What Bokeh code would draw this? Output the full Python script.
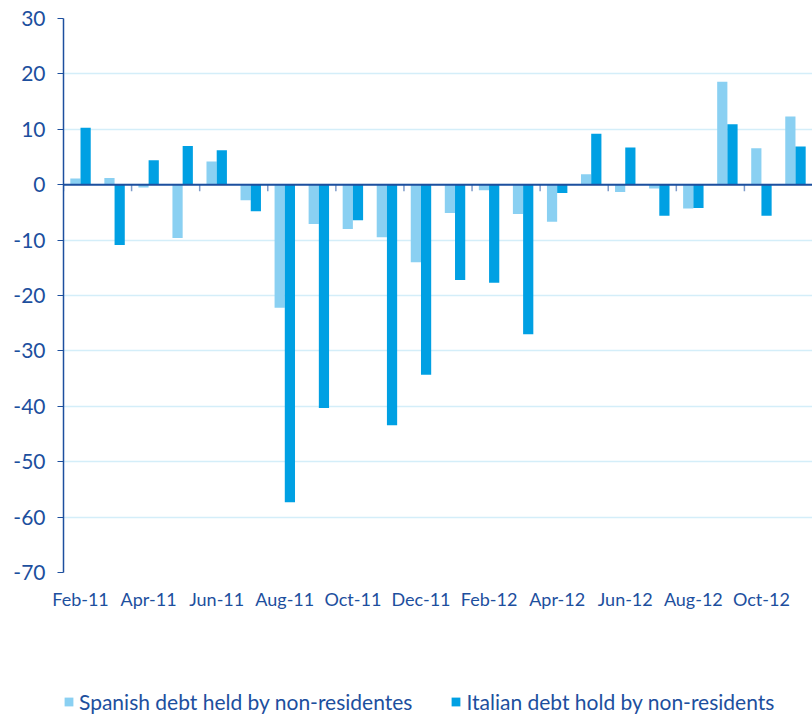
from bokeh.plotting import figure
from bokeh.layouts import column
from bokeh.models import ColumnDataSource, Range1d, FixedTicker, Legend, LegendItem, Span
from bokeh.transform import dodge
from bokeh.embed import file_html
from bokeh.resources import INLINE

months = ["Feb-11", "Mar-11", "Apr-11", "May-11", "Jun-11", "Jul-11", "Aug-11", "Sep-11",
          "Oct-11", "Nov-11", "Dec-11", "Jan-12", "Feb-12", "Mar-12", "Apr-12", "May-12",
          "Jun-12", "Jul-12", "Aug-12", "Sep-12", "Oct-12", "Nov-12"]
spanish = [1.1, 1.2, -0.5, -9.6, 4.2, -2.8, -22.2, -7.1, -8.0, -9.5, -14.0, -5.1,
           -1.0, -5.3, -6.7, 1.9, -1.3, -0.7, -4.3, 18.6, 6.6, 12.3]
italian = [10.3, -10.9, 4.4, 7.0, 6.2, -4.8, -57.3, -40.3, -6.4, -43.4, -34.3, -17.2,
           -17.7, -27.0, -1.5, 9.2, 6.7, -5.6, -4.2, 10.9, -5.6, 6.9]
y_ticks = [-70, -60, -50, -40, -30, -20, -10, 0, 10, 20, 30]
series_names = ["Spanish debt held by non-residentes", "Italian debt hold by non-residents"]

LIGHT = "#8AD0F2"
DARK = "#00A0E3"
TEXT = "#1D4F9E"
GRID = "#D4EEF9"
FONT = "Lato"

idx = list(range(len(months)))
src = ColumnDataSource(dict(x=idx, sp=spanish, it=italian))

p = figure(width=812, height=630, x_range=Range1d(-0.5, len(months) - 0.5),
           y_range=Range1d(y_ticks[0], y_ticks[-1]),
           output_backend="svg", toolbar_location=None,
           min_border_left=63, min_border_right=0, min_border_top=18, min_border_bottom=58)
p.outline_line_color = None
p.background_fill_color = "white"

r1 = p.vbar(x=dodge("x", -0.15, range=p.x_range), top="sp", width=0.3, source=src,
            fill_color=LIGHT, line_color=None)
r2 = p.vbar(x=dodge("x", 0.15, range=p.x_range), top="it", width=0.3, source=src,
            fill_color=DARK, line_color=None)

# zero line with small ticks at every second category boundary
p.add_layout(Span(location=0, dimension="width", line_color=TEXT, line_width=2))
bx = [i - 0.5 for i in idx[::2]]
p.segment(x0=bx, y0=[0] * len(bx), x1=bx, y1=[-1.2] * len(bx), line_color="#7E9CCB", line_width=1.5)

p.xgrid.grid_line_color = None
p.ygrid.grid_line_color = GRID
p.ygrid.grid_line_width = 1.5
p.ygrid.ticker = FixedTicker(ticks=y_ticks)

ya = p.yaxis[0]
ya.ticker = FixedTicker(ticks=y_ticks)
ya.major_label_overrides = {t: str(t) for t in y_ticks}
ya.axis_line_color = TEXT
ya.axis_line_width = 1.5
ya.major_tick_line_color = TEXT
ya.major_tick_out = 6
ya.major_tick_in = 0
ya.minor_tick_line_color = None
ya.major_label_text_font = FONT
ya.major_label_text_font_size = "21px"
ya.major_label_text_color = TEXT
ya.major_label_standoff = 12

xa = p.xaxis[0]
xa.ticker = FixedTicker(ticks=idx[::2])
xa.major_label_overrides = {i: months[i] for i in idx[::2]}
xa.axis_line_color = None
xa.major_tick_line_color = None
xa.minor_tick_line_color = None
xa.major_tick_out = 0
xa.major_tick_in = 0
xa.major_label_text_font = FONT
xa.major_label_text_font_size = "18px"
xa.major_label_text_color = TEXT
xa.major_label_standoff = 15

# legend strip below the chart
lg = figure(width=812, height=84, output_backend="svg", toolbar_location=None,
            x_axis_type=None, y_axis_type=None, x_range=p.x_range, y_range=p.y_range,
            min_border=0)
lg.outline_line_color = None
lg.grid.grid_line_color = None
l1 = lg.vbar(x="x", top="sp", width=0.3, source=src, fill_color=LIGHT, line_color=None, visible=False)
l2 = lg.vbar(x="x", top="it", width=0.3, source=src, fill_color=DARK, line_color=None, visible=False)

legend = Legend(items=[LegendItem(label=series_names[0], renderers=[l1]),
                       LegendItem(label=series_names[1], renderers=[l2])],
                location=(0, 0), orientation="horizontal")
legend.inactive_fill_alpha = 0
legend.glyph_width = 11
legend.glyph_height = 11
legend.label_standoff = 5
legend.spacing = 38
legend.padding = 0
legend.margin = 0
legend.border_line_color = None
legend.background_fill_alpha = 0
legend.label_text_font = FONT
legend.label_text_font_size = "21px"
legend.label_text_color = TEXT
lg.add_layout(legend, "center")

layout = column(p, lg, spacing=0)
open("out.html", "w").write(file_html(layout, INLINE))
